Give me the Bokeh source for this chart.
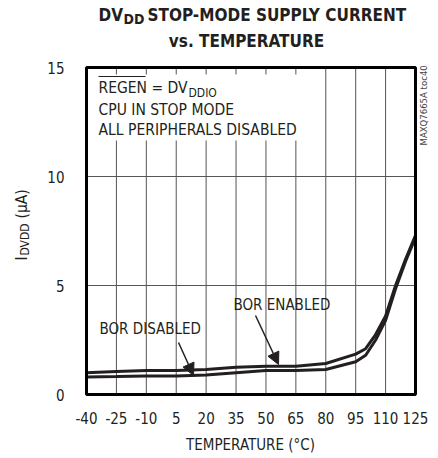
import math
from bokeh.plotting import figure
from bokeh.models import Range1d, FixedTicker, Label, Arrow, NormalHead, LinearAxis
from bokeh.embed import file_html
from bokeh.resources import INLINE

# ---- data ----
temperature = [-40, -25, -10, 5, 20, 35, 50, 65, 80, 95, 100, 105, 110, 115, 120, 125]
bor_enabled = [1.0, 1.05, 1.1, 1.1, 1.15, 1.25, 1.3, 1.3, 1.42, 1.85, 2.1, 2.75, 3.6, 5.0, 6.2, 7.3]
bor_disabled = [0.8, 0.82, 0.85, 0.85, 0.9, 1.0, 1.1, 1.1, 1.15, 1.5, 1.8, 2.5, 3.4, 4.85, 6.1, 7.2]
x_ticks = [-40, -25, -10, 5, 20, 35, 50, 65, 80, 95, 110, 125]
y_ticks = [0, 5, 10, 15]

FONT = "DejaVu Sans Condensed"
INK = "#231f20"

# ---- layout (pixels inside the canvas) ----
W, H = 438, 458
FL, FR, FT, FB = 86, 415, 67, 394          # plotting box
X0, X1, Y0, Y1 = x_ticks[0], x_ticks[-1], y_ticks[0], y_ticks[-1]
sx = (FR - FL) / (X1 - X0)
sy = (FB - FT) / (Y1 - Y0)
xr = Range1d(X0 - FL / sx, X1 + (W - FR) / sx)
yr = Range1d(Y0 - (H - FB) / sy, Y1 + FT / sy)

def dx(px):
    return X0 + (px - FL) / sx

def dy(py):
    return Y0 + (FB - py) / sy

p = figure(width=W, height=H, x_range=xr, y_range=yr, title=None,
           output_backend="svg", toolbar_location=None,
           x_axis_location=None, y_axis_location=None,
           min_border=0)
p.outline_line_color = None
p.background_fill_color = "white"
p.border_fill_color = "white"
p.grid.visible = False

# axes fixed at the plotting box edges
xa = LinearAxis(fixed_location=Y0, ticker=FixedTicker(ticks=x_ticks),
                major_label_overrides={t: str(t) for t in x_ticks})
ya = LinearAxis(fixed_location=X0, ticker=FixedTicker(ticks=y_ticks),
                major_label_overrides={t: str(t) for t in y_ticks})
for ax in (xa, ya):
    ax.axis_line_color = None
    ax.major_tick_line_color = None
    ax.minor_tick_line_color = None
    ax.major_label_text_font = FONT
    ax.major_label_text_font_size = "15px"
    ax.major_label_text_color = INK
xa.major_label_standoff = 11
ya.major_label_standoff = 16
p.add_layout(xa, "below")
p.add_layout(ya, "left")

# grid lines
p.segment(x0=x_ticks, y0=[Y0] * len(x_ticks), x1=x_ticks, y1=[Y1] * len(x_ticks),
          line_color="#555555", line_width=1)
p.segment(x0=[X0] * len(y_ticks), y0=y_ticks, x1=[X1] * len(y_ticks), y1=y_ticks,
          line_color="#555555", line_width=1)

# white box behind the condition text
p.quad(left=dx(FL), right=dx(310), top=dy(74), bottom=dy(140),
       fill_color="white", line_color=None)

# curves
p.line(temperature, bor_enabled, line_color=INK, line_width=3)
p.line(temperature, bor_disabled, line_color=INK, line_width=3)

# plotting box frame
p.quad(left=[X0], right=[X1], bottom=[Y0], top=[Y1], fill_color=None,
       line_color="black", line_width=3)

def lab(px, py, text, size="15.5px", bold=False, align="left", angle=0, color=INK):
    p.add_layout(Label(x=dx(px), y=dy(py), text=text, text_font=FONT,
                       text_font_size=size, text_font_style="bold" if bold else "normal",
                       text_align=align, text_baseline="middle", angle=angle,
                       text_color=color))

# title
lab(98, 14, "DV", size="17px", bold=True)
lab(123, 18.5, "DD", size="14px", bold=True)
lab(147, 14, "STOP-MODE SUPPLY CURRENT", size="17px", bold=True)
lab(246, 40, "vs. TEMPERATURE", size="17px", bold=True, align="center")

# x axis title
lab(250, 444, "TEMPERATURE (°C)", size="15px", align="center")

# y axis title (rotated)
lab(21, 260, "I", size="15.5px", angle=math.pi / 2)
lab(24.5, 255, "DVDD", size="12px", angle=math.pi / 2)
lab(21, 218, "(µA)", size="15.5px", angle=math.pi / 2)

# side note
lab(423, 145, "MAXQ7665A toc40", size="9.5px", angle=math.pi / 2, color="#444444")

# condition text
lab(98, 87, "REGEN = DV")
lab(188, 92, "DDIO", size="12px")
p.segment(x0=[dx(98)], y0=[dy(76)], x1=[dx(145)], y1=[dy(76)], line_color=INK, line_width=1)
lab(98, 109, "CPU IN STOP MODE")
lab(98, 129, "ALL PERIPHERALS DISABLED")

# curve labels & arrows
lab(99, 328, "BOR DISABLED", size="15px")
lab(233, 304.5, "BOR ENABLED", size="15px")
p.add_layout(Arrow(end=NormalHead(size=12, fill_color=INK, line_color=INK),
                   x_start=dx(178), y_start=dy(342), x_end=dx(193), y_end=dy(375),
                   line_color=INK, line_width=1.5))
p.add_layout(Arrow(end=NormalHead(size=12, fill_color=INK, line_color=INK),
                   x_start=dx(255), y_start=dy(315), x_end=dx(278), y_end=dy(364),
                   line_color=INK, line_width=1.5))

open("out.html", "w").write(file_html(p, INLINE))
